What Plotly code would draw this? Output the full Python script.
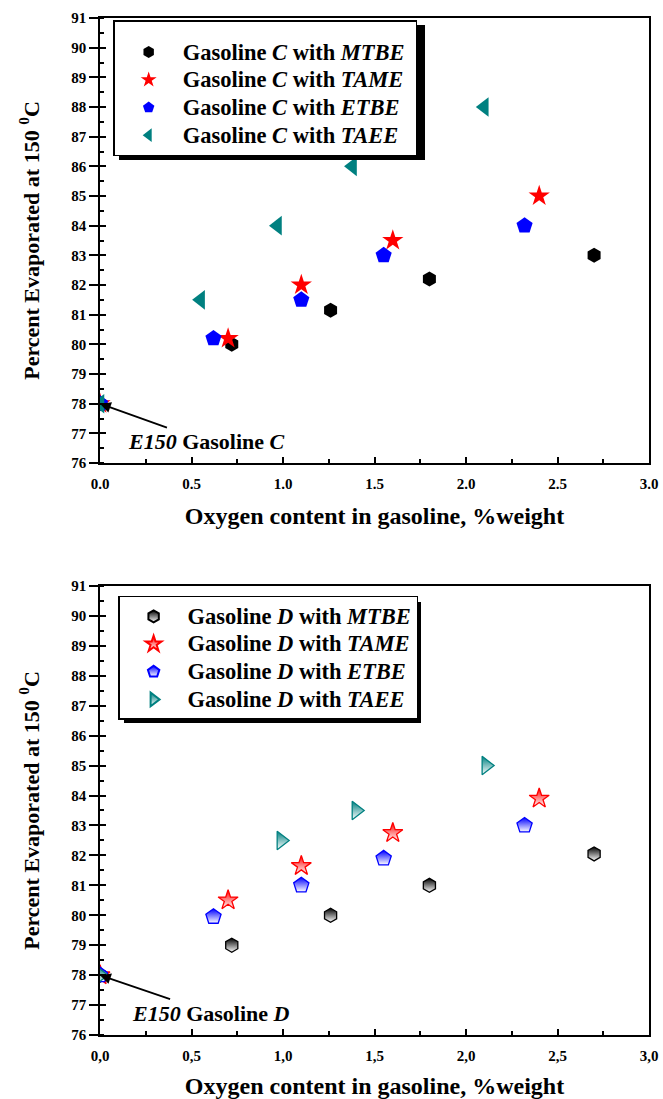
import plotly.graph_objects as go

# ---------------- data ----------------
# Gasoline C (top panel)
c_mtbe_x = [0, 0.72, 1.26, 1.80, 2.70]
c_mtbe_y = [78, 80.0, 81.15, 82.2, 83.0]
c_tame_x = [0, 0.70, 1.10, 1.60, 2.40]
c_tame_y = [78, 80.2, 82.0, 83.5, 85.0]
c_etbe_x = [0, 0.62, 1.10, 1.55, 2.32]
c_etbe_y = [78, 80.2, 81.5, 83.0, 84.0]
c_taee_x = [0, 0.55, 0.97, 1.38, 2.10]
c_taee_y = [78, 81.5, 84.0, 86.0, 88.0]

# Gasoline D (bottom panel)
d_mtbe_x = [0, 0.72, 1.26, 1.80, 2.70]
d_mtbe_y = [78, 79.0, 80.0, 81.0, 82.05]
d_tame_x = [0, 0.70, 1.10, 1.60, 2.40]
d_tame_y = [78, 80.5, 81.65, 82.75, 83.9]
d_etbe_x = [0, 0.62, 1.10, 1.55, 2.32]
d_etbe_y = [78, 79.95, 81.0, 81.9, 83.0]
d_taee_x = [0, 0.99, 1.40, 2.11]
d_taee_y = [78, 82.5, 83.5, 85.0]

x_tickvals = [0, 0.5, 1.0, 1.5, 2.0, 2.5, 3.0]
x_ticktext_top = ["0.0", "0.5", "1.0", "1.5", "2.0", "2.5", "3.0"]
x_ticktext_bot = ["0,0", "0,5", "1,0", "1,5", "2,0", "2,5", "3,0"]
y_tickvals = list(range(76, 92))

FONT = "Liberation Serif"
TEAL = "#008080"

fig = go.Figure()

def leg(text, pad):
    return '<span style="font-size:22.5px">' + text + ('&nbsp;' if pad else '') + '</span>'

def add(x, y, name, symbol, color, size, xa, ya, legend, half=False):
    marker = dict(symbol=symbol, color=color, size=size,
                  line=dict(color=color, width=1.3 if half else 0))
    if half:
        marker["gradient"] = dict(type="vertical", color="white")
    fig.add_trace(go.Scatter(x=x, y=y, mode="markers", name=leg(name, not half), marker=marker,
                             xaxis=xa, yaxis=ya, legend=legend))

add(c_mtbe_x, c_mtbe_y, "Gasoline <i>C</i> with <i>MTBE</i>", "hexagon", "black", 15, "x", "y", "legend")
add(c_tame_x, c_tame_y, "Gasoline <i>C</i> with <i>TAME</i>", "star", "red", 16, "x", "y", "legend")
add(c_etbe_x, c_etbe_y, "Gasoline <i>C</i> with <i>ETBE</i>", "pentagon", "blue", 17, "x", "y", "legend")
add(c_taee_x, c_taee_y, "Gasoline <i>C</i> with <i>TAEE</i>", "triangle-left", TEAL, 17, "x", "y", "legend")

add(d_mtbe_x, d_mtbe_y, "Gasoline <i>D</i> with <i>MTBE</i>", "hexagon", "black", 14, "x2", "y2", "legend2", True)
add(d_tame_x, d_tame_y, "Gasoline <i>D</i> with <i>TAME</i>", "star", "red", 15, "x2", "y2", "legend2", True)
add(d_etbe_x, d_etbe_y, "Gasoline <i>D</i> with <i>ETBE</i>", "pentagon", "blue", 16, "x2", "y2", "legend2", True)
add(d_taee_x, d_taee_y, "Gasoline <i>D</i> with <i>TAEE</i>", "triangle-right", TEAL, 16, "x2", "y2", "legend2", True)

tickfont = dict(family=FONT, size=15, color="black", weight="bold")
xtitlefont = dict(family=FONT, size=24, color="black", weight="bold")
ytitlefont = dict(family=FONT, size=22, color="black", weight="bold")

def xaxis(anchor, ticktext):
    return dict(range=[0, 3.0], tickvals=x_tickvals, ticktext=ticktext,
                showline=True, linecolor="black", linewidth=1.5, mirror=True,
                ticks="inside", ticklen=6, tickwidth=1.5, tickcolor="black",
                minor=dict(dtick=0.25, ticks="inside", ticklen=4, tickwidth=1.5, tickcolor="black"),
                showgrid=False, zeroline=False, tickfont=tickfont, anchor=anchor,
                automargin=False, ticklabelstandoff=6, ticklabeloverflow="allow",
                title=dict(text="Oxygen content in gasoline, %weight", font=xtitlefont, standoff=16))

def yaxis(domain, anchor):
    return dict(range=[76, 91], domain=domain, tickvals=y_tickvals,
                showline=True, linecolor="black", linewidth=1.5, mirror=True,
                ticks="outside", ticklen=9, tickwidth=1.5, tickcolor="black",
                minor=dict(dtick=0.5, ticks="inside", ticklen=4, tickwidth=1.5, tickcolor="black"),
                showgrid=False, zeroline=False, tickfont=tickfont, anchor=anchor,
                automargin=False,
                title=dict(text="Percent Evaporated at 150 <sup>0</sup>C", font=ytitlefont, standoff=26))

def yinner(domain, anchor, overlay):
    # duplicate axis carrying the inner half of the crossing major ticks
    return dict(range=[76, 91], domain=domain, tickvals=y_tickvals, overlaying=overlay,
                showline=False, ticks="inside", ticklen=6, tickwidth=1.5, tickcolor="black",
                showticklabels=False, showgrid=False, zeroline=False, anchor=anchor,
                automargin=False, side="left")

legfont = dict(family=FONT, size=19, color="black", weight="bold")

TOP_DOM = [0.5624, 1.0]
BOT_DOM = [0.0, 0.4415]

fig.update_layout(
    width=663, height=1099,
    margin=dict(l=100, r=14, t=18, b=64),
    paper_bgcolor="white", plot_bgcolor="white",
    showlegend=True,
    xaxis=xaxis("y", x_ticktext_top),
    yaxis=yaxis(TOP_DOM, "x"),
    xaxis2=xaxis("y2", x_ticktext_bot),
    yaxis2=yaxis(BOT_DOM, "x2"),
    yaxis3=yinner(TOP_DOM, "x", "y"),
    yaxis4=yinner(BOT_DOM, "x2", "y2"),
    legend=dict(x=0.024, y=0.998, xanchor="left", yanchor="top",
                bgcolor="white", bordercolor="black", borderwidth=1.5,
                font=legfont, itemsizing="constant", itemwidth=58,
                title=dict(text="&nbsp;", font=dict(family=FONT, size=9))),
    legend2=dict(x=0.033, y=0.4317, xanchor="left", yanchor="top",
                 bgcolor="white", bordercolor="black", borderwidth=1.5,
                 font=legfont, itemsizing="constant", itemwidth=58),
)

# invisible traces to activate the inner-tick axes
fig.add_trace(go.Scatter(x=[], y=[], xaxis="x", yaxis="y3", showlegend=False))
fig.add_trace(go.Scatter(x=[], y=[], xaxis="x2", yaxis="y4", showlegend=False))

# legend drop shadows (paper coords)
fig.add_shape(type="rect", xref="paper", yref="paper", x0=0.0346, x1=0.592, y0=0.8604, y1=0.9931,
              fillcolor="black", line=dict(width=0), layer="above")
fig.add_shape(type="rect", xref="paper", yref="paper", x0=0.0437, x1=0.5847, y0=0.3068, y1=0.4258,
              fillcolor="black", line=dict(width=0), layer="above")

fig.add_annotation(x=0, y=78, xref="x", yref="y", ax=106, ay=38,
                   text="<i>E150</i> Gasoline <i>C</i>", showarrow=True,
                   arrowhead=2, arrowsize=1.2, arrowwidth=1.8, arrowcolor="black",
                   font=dict(family=FONT, size=22, color="black", weight="bold"))
fig.add_annotation(x=0, y=78, xref="x2", yref="y2", ax=111, ay=38,
                   text="<i>E150</i> Gasoline <i>D</i>", showarrow=True,
                   arrowhead=2, arrowsize=1.2, arrowwidth=1.8, arrowcolor="black",
                   font=dict(family=FONT, size=22, color="black", weight="bold"))

fig.write_html("out.html", config={"displayModeBar": False},
               post_script="document.body.style.margin='0';")
